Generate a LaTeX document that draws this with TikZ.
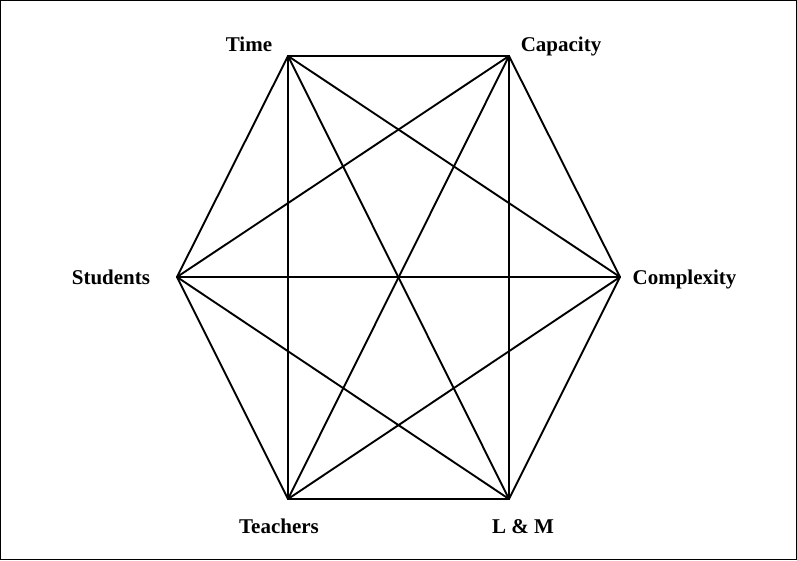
\documentclass[tikz,border=0pt]{standalone}
\usepackage{fontspec}
\setmainfont{Liberation Serif}
\begin{document}
\begin{tikzpicture}[x=1pt,y=-1pt,
  edge/.style={line width=1.9pt, line cap=round, line join=round},
  lbl/.style={font=\fontsize{21}{24}\selectfont\bfseries, inner sep=0pt, anchor=base}]
\draw[line width=1pt] (0.5,0.5) rectangle (796.5,559.5);
\useasboundingbox (0,0) rectangle (797,560);
\coordinate (ti) at (288,56);
\coordinate (ca) at (509,56);
\coordinate (co) at (620,277);
\coordinate (lm) at (509,499);
\coordinate (te) at (288,499);
\coordinate (st) at (177,277);
\foreach \a/\b in {ti/ca,ti/co,ti/lm,ti/te,ti/st,ca/co,ca/lm,ca/te,ca/st,co/lm,co/te,co/st,lm/te,lm/st,te/st}
  \draw[edge] (\a) -- (\b);
\node[lbl] (tiL) at (249,51) {Time};
\node[lbl] (caL) at (561,51) {Capacity};
\node[lbl] (stL) at (111,284) {Students};
\node[lbl] (coL) at (684.5,284) {Complexity};
\node[lbl] (teL) at (279,533) {Teachers};
\node[lbl] (lmL) at (523,533) {L \& M};
\end{tikzpicture}
\end{document}
